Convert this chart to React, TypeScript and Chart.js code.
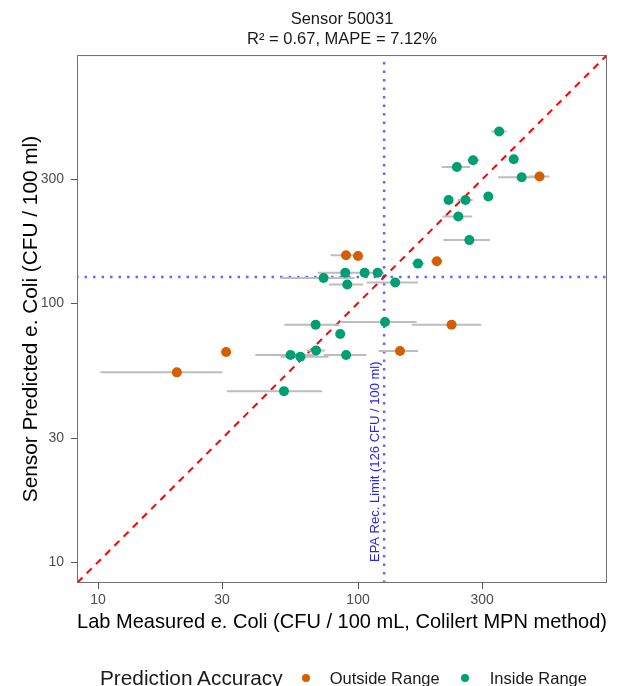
import React, { useEffect, useRef } from 'react';
import { Chart, registerables } from 'chart.js';

Chart.register(...registerables);

// ---- data ----
const labMeasured = [349, 397, 277, 240, 426, 499, 223, 259, 317, 243, 268, 89.9, 100, 170, 201, 73.7, 89.3, 106, 119, 90.9, 139, 68.7, 127, 229, 85.4, 69, 55, 60, 90, 145, 31.1, 20.1, 51.9];
const sensorPredicted = [460, 359, 356, 335, 306, 308, 250, 250, 258, 216, 175, 153, 152, 142, 145, 125, 131, 131, 131, 118, 120, 82.5, 84.5, 82.5, 75.9, 65.6, 63, 62, 63, 65.3, 64.7, 54, 45.7];
const labLow = [326, 397, 264, 210, 346, 452, 223, 242, 317, 211, 213, 78.4, 96, 161, 191, 50.4, 70, 98, 112, 77.3, 108, 52.1, 85.7, 161, 85.4, 63.4, 40.3, 50.4, 73.9, 120, 31.1, 10.2, 31.3];
const labHigh = [373, 397, 293, 270, 506, 545, 223, 276, 317, 275, 322, 101, 104, 180, 211, 97, 109, 114, 126, 104.5, 170, 84.5, 168, 298, 85.4, 74.6, 70, 77, 107.7, 170, 31.1, 30.1, 72.8];
const accuracy = ['in', 'in', 'in', 'in', 'in', 'out', 'in', 'in', 'in', 'in', 'in', 'out', 'out', 'in', 'out', 'in', 'in', 'in', 'in', 'in', 'in', 'in', 'in', 'out', 'in', 'in', 'in', 'in', 'in', 'out', 'out', 'out', 'in'];

const xTicks = [10, 30, 100, 300];
const yTicks = [10, 30, 100, 300];
const axisMin = 8.3;
const axisMax = 907;
const epaLimit = 126;
const epaLabelY = 10;
const identityLine = [1, 10000];

const titleText = 'Sensor 50031';
const subtitleText = 'R\u00B2 = 0.67, MAPE = 7.12%';
const xTitle = 'Lab Measured e. Coli (CFU / 100 mL, Colilert MPN method)';
const yTitle = 'Sensor Predicted e. Coli (CFU / 100 ml)';
const legendTitle = 'Prediction Accuracy';
const legendItems = [
  { key: 'out', label: 'Outside Range', color: '#D55E00' },
  { key: 'in', label: 'Inside Range', color: '#009E73' },
];

const FONT = '"Liberation Sans", Arial, Helvetica, sans-serif';

const panelPlugin = {
  id: 'panelDecor',
  afterDatasetsDraw(chart: any) {
    const { ctx, chartArea: a, scales } = chart;
    ctx.save();
    ctx.beginPath();
    ctx.rect(a.left, a.top, a.width, a.height);
    ctx.clip();
    const x = scales.x.getPixelForValue(epaLimit) - 9;
    const y = scales.y.getPixelForValue(epaLabelY);
    ctx.translate(x, y);
    ctx.rotate(-Math.PI / 2);
    ctx.font = `13px ${FONT}`;
    ctx.fillStyle = 'rgb(40,40,225)';
    ctx.textAlign = 'left';
    ctx.textBaseline = 'middle';
    ctx.fillText(`EPA Rec. Limit (${epaLimit} CFU / 100 ml)`, 0, 0);
    ctx.restore();

    ctx.save();
    ctx.strokeStyle = '#707070';
    ctx.lineWidth = 1;
    ctx.strokeRect(a.left + 0.5, a.top + 0.5, a.width - 1, a.height - 1);
    ctx.restore();
  },
};

export default function App() {
  const ref = useRef<HTMLCanvasElement | null>(null);

  useEffect(() => {
    if (!ref.current) return;
    const points = (flag: string) =>
      labMeasured
        .map((x, i) => ({ x, y: sensorPredicted[i], a: accuracy[i] }))
        .filter((p) => p.a === flag)
        .map((p) => ({ x: p.x, y: p.y }));

    const errData: any[] = [];
    labMeasured.forEach((_, i) => {
      errData.push({ x: labLow[i], y: sensorPredicted[i] });
      errData.push({ x: labHigh[i], y: sensorPredicted[i] });
      errData.push({ x: labHigh[i], y: null });
    });

    const chart = new Chart(ref.current, {
      type: 'scatter',
      data: {
        datasets: [
          {
            label: 'Outside Range',
            data: points('out'),
            backgroundColor: legendItems[0].color,
            borderWidth: 0,
            pointRadius: 5,
            order: 0,
          },
          {
            label: 'Inside Range',
            data: points('in'),
            backgroundColor: legendItems[1].color,
            borderWidth: 0,
            pointRadius: 5,
            order: 0,
          },
          {
            label: 'error',
            data: errData,
            showLine: true,
            spanGaps: false,
            borderColor: '#bdbdbd',
            borderWidth: 2,
            pointRadius: 0,
            order: 1,
          } as any,
          {
            label: 'identity',
            data: identityLine.map((v) => ({ x: v, y: v })),
            showLine: true,
            borderColor: '#ff0000',
            borderWidth: 2,
            borderDash: [7, 6],
            pointRadius: 0,
            order: 2,
          } as any,
          {
            label: 'hline',
            data: identityLine.map((v) => ({ x: v, y: epaLimit })),
            showLine: true,
            borderColor: 'rgba(0,0,255,0.6)',
            borderWidth: 2.5,
            borderDash: [2.5, 6],
            pointRadius: 0,
            order: 3,
          } as any,
          {
            label: 'vline',
            data: identityLine.map((v) => ({ x: epaLimit, y: v })),
            showLine: true,
            borderColor: 'rgba(0,0,255,0.6)',
            borderWidth: 2.5,
            borderDash: [2.5, 6],
            pointRadius: 0,
            order: 3,
          } as any,
        ],
      },
      options: {
        animation: false,
        responsive: false,
        events: [],
        layout: { padding: { left: 0, right: 12, top: 0, bottom: 48 } },
        plugins: {
          legend: { display: false },
          tooltip: { enabled: false },
          title: {
            display: true,
            text: titleText,
            fullSize: false,
            color: '#1a1a1a',
            font: { family: FONT, size: 16.5, weight: 'normal', lineHeight: 1.25 },
            padding: { top: 9, bottom: 0 },
          },
          subtitle: {
            display: true,
            text: subtitleText,
            fullSize: false,
            color: '#1a1a1a',
            font: { family: FONT, size: 16.5, weight: 'normal', lineHeight: 1.25 },
            padding: { top: 0, bottom: 4.8 },
          },
        },
        scales: {
          x: {
            type: 'logarithmic',
            min: axisMin,
            max: axisMax,
            afterBuildTicks: (s: any) => {
              s.ticks = xTicks.map((v) => ({ value: v }));
            },
            afterFit: (s: any) => {
              s.height = 55;
            },
            ticks: {
              callback: (v: any) => String(v),
              color: '#4d4d4d',
              font: { family: FONT, size: 14 },
              padding: 3,
              autoSkip: false,
              maxRotation: 0,
            },
            grid: { display: true, drawOnChartArea: false, drawTicks: true, tickLength: 6, color: '#555' },
            border: { display: false },
            title: {
              display: true,
              text: xTitle,
              color: '#000',
              font: { family: FONT, size: 20.8, lineHeight: 1.2 },
              padding: { top: 0, bottom: 3.5 },
            },
          },
          y: {
            type: 'logarithmic',
            min: axisMin,
            max: axisMax,
            afterBuildTicks: (s: any) => {
              s.ticks = yTicks.map((v) => ({ value: v }));
            },
            afterFit: (s: any) => {
              s.width = 77;
            },
            ticks: {
              callback: (v: any) => String(v),
              color: '#4d4d4d',
              font: { family: FONT, size: 14 },
              padding: 7,
              autoSkip: false,
            },
            grid: { display: true, drawOnChartArea: false, drawTicks: true, tickLength: 6, color: '#555' },
            border: { display: false },
            title: {
              display: true,
              text: yTitle,
              color: '#000',
              font: { family: FONT, size: 20.8, lineHeight: 1.2 },
              padding: { top: 18.5, bottom: 0 },
            },
          },
        },
      } as any,
      plugins: [panelPlugin],
    });
    return () => chart.destroy();
  }, []);

  return (
    <div style={{ position: 'absolute', left: 0, top: 0, width: 619, height: 686, background: '#fff', overflow: 'hidden' }}>
      <canvas ref={ref} width={619} height={686} style={{ display: 'block' }} />
      <div
        style={{
          position: 'absolute',
          left: 0,
          top: 666,
          width: 619,
          height: 24,
          display: 'flex',
          alignItems: 'center',
          paddingLeft: 100,
          boxSizing: 'border-box',
          fontFamily: FONT,
          color: '#1a1a1a',
          whiteSpace: 'nowrap',
        }}
      >
        <span style={{ fontSize: 20.8, lineHeight: '24px' }}>{legendTitle}</span>
        {legendItems.map((it, i) => (
          <React.Fragment key={it.key}>
            <span
              style={{
                display: 'inline-block',
                width: 8,
                height: 8,
                borderRadius: 4,
                background: it.color,
                marginLeft: i === 0 ? 19.5 : 21,
                marginRight: i === 0 ? 19.5 : 21,
              }}
            />
            <span style={{ fontSize: 16.5, lineHeight: '24px' }}>{it.label}</span>
          </React.Fragment>
        ))}
      </div>
    </div>
  );
}
